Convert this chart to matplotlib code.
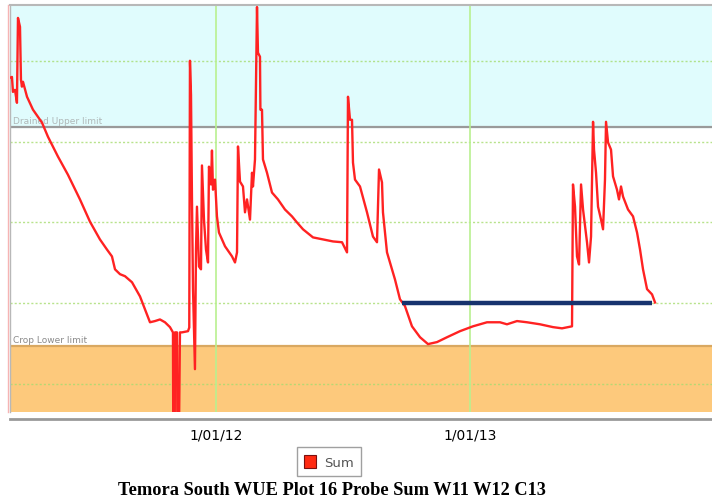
import numpy as np
import pandas as pd
import matplotlib
matplotlib.use("Agg")
import matplotlib.pyplot as plt
import matplotlib.dates as mdates
from matplotlib.patches import Patch
from matplotlib.lines import Line2D

# probe sum readings: days offset from 1 Jan 2012, and summed soil water
day_offset = [
    -296.8, -294.0, -292.5, -289.6, -286.8, -285.3, -282.4, -281.0, -279.6, -278.1,
    -272.3, -263.7, -250.7, -242.1, -227.7, -213.3, -196.0, -181.6, -167.2, -157.1,
    -149.9, -145.5, -138.3, -131.1, -121.0, -109.5, -102.3, -95.1, -87.9, -80.7,
    -73.5, -66.3, -62.0, -61.5, -59.5, -59.1, -56.2, -55.5, -53.5, -51.9,
    -49.0, -40.3, -38.5, -37.5, -36.0, -34.6, -33.1, -30.3, -28.8, -27.4,
    -24.5, -21.6, -20.2, -17.3, -14.4, -11.5, -10.1, -7.2, -5.8, -4.3,
    -1.4, 1.4, 4.3, 13.0, 23.1, 27.4, 30.3, 31.7, 34.6, 38.9,
    41.8, 44.7, 49.0, 51.9, 53.3, 56.2, 59.1, 60.5, 63.4, 64.0,
    66.3, 67.7, 73.5, 80.7, 89.3, 99.4, 109.5, 116.7, 125.4, 139.8,
    154.2, 168.6, 181.6, 188.8, 190.2, 193.1, 196.0, 197.4, 200.3, 207.5,
    217.6, 226.2, 232.0, 234.9, 239.2, 240.6, 246.4, 257.9, 265.1, 272.3,
    282.4, 294.0, 305.5, 318.5, 332.9, 351.6, 370.3, 390.5, 409.2, 419.3,
    433.7, 448.2, 466.9, 485.6, 498.6, 513.0, 514.4, 517.3, 520.2, 523.1,
    526.0, 528.9, 534.6, 537.5, 540.4, 543.3, 544.7, 547.6, 550.5, 554.8,
    557.7, 560.5, 562.0, 564.9, 569.2, 572.1, 577.8, 580.7, 583.6, 586.5,
    593.7, 600.9, 606.7, 611.0, 615.3, 621.1, 628.3, 632.6,
]
sum_values = [
    375.8, 376.0, 372.3, 372.8, 369.6, 390.6, 388.4, 375.3, 373.6, 374.8,
    371.1, 367.9, 364.7, 361.2, 356.3, 351.8, 345.7, 340.2, 335.8, 333.3,
    331.6, 328.4, 327.2, 326.7, 325.2, 321.7, 318.5, 315.3, 315.6, 316.0,
    315.3, 314.1, 312.8, 285.0, 285.0, 312.8, 312.8, 285.0, 285.0, 312.8,
    312.8, 313.1, 314.0, 380.0, 371.6, 345.7, 323.5, 303.7, 333.3, 343.9,
    329.1, 328.4, 354.1, 340.7, 333.3, 330.1, 353.8, 349.4, 357.8, 348.1,
    350.6, 341.5, 337.5, 334.1, 331.6, 330.1, 332.6, 358.8, 350.1, 348.9,
    342.5, 345.7, 340.7, 352.3, 348.9, 355.6, 393.3, 382.0, 381.0, 367.9,
    367.9, 355.6, 352.3, 347.4, 345.7, 343.2, 341.5, 340.0, 338.3, 336.3,
    335.8, 335.3, 335.1, 332.6, 371.1, 365.4, 365.4, 354.8, 350.6, 348.9,
    342.5, 336.5, 335.1, 353.1, 349.9, 342.5, 332.6, 325.9, 321.0, 319.3,
    314.3, 311.6, 309.9, 310.4, 311.6, 313.1, 314.3, 315.3, 315.3, 314.8,
    315.6, 315.3, 314.8, 314.1, 313.8, 314.3, 349.4, 343.9, 331.6, 329.6,
    349.4, 343.2, 335.1, 330.1, 336.5, 364.9, 358.0, 352.3, 343.9, 340.7,
    338.3, 350.6, 364.9, 359.8, 358.0, 351.4, 348.1, 345.7, 348.9, 346.4,
    343.2, 341.5, 337.5, 333.3, 328.4, 323.5, 322.2, 320.2,
]

full_point = 363.5      # drained upper limit
refill_point = 309.4    # crop lower limit
target_level = 320.0
target_span = [268.0, 628.3]
grid_levels = [300, 320, 340, 360, 380]
tick_dates = ["2012-01-01", "2013-01-01"]
tick_labels = ["1/01/12", "1/01/13"]

base = pd.Timestamp("2012-01-01")
dates = base + pd.to_timedelta(day_offset, unit="D")
x_left = base + pd.Timedelta(days=-296.8)
x_right = base + pd.Timedelta(days=714.7)
y_bottom, y_top = 293.1, 393.8

fig = plt.figure(figsize=(7.12, 5.02), dpi=100)
ax = fig.add_axes([10 / 712, 1 - 413 / 502, 1 - 10 / 712, 407 / 502])

ax.axhspan(full_point, y_top, color="#e0fcfd", zorder=0)
ax.axhspan(y_bottom, refill_point, color="#fdc97c", zorder=0)
ax.axhline(full_point, color="#9a9a9a", lw=1.6, zorder=1)
ax.axhline(refill_point, color="#d9a861", lw=1.6, zorder=1)

for lvl in grid_levels:
    ax.axhline(lvl, color="#a6dc70", lw=1.0, ls=(0, (1.5, 1.5)), alpha=0.8, zorder=1)
for d in tick_dates:
    ax.axvline(pd.Timestamp(d), color="#b9f090", lw=1.2, zorder=1)

ax.text(x_left + pd.Timedelta(days=5), full_point + 0.6, "Drained Upper limit",
        fontsize=6.5, color="#b0b8b8", va="bottom", ha="left", zorder=2)
ax.text(x_left + pd.Timedelta(days=5), refill_point + 0.6, "Crop Lower limit",
        fontsize=6.5, color="#8a8a8a", va="bottom", ha="left", zorder=2)

ax.plot(dates, sum_values, color="#ff2222", lw=1.7, zorder=3)
ax.plot([base + pd.Timedelta(days=target_span[0]), base + pd.Timedelta(days=target_span[1])],
        [target_level, target_level], color="#17336e", lw=3.2, zorder=4, solid_capstyle="butt")

ax.set_xlim(x_left, x_right)
ax.set_ylim(y_bottom, y_top)
ax.set_yticks([])
ax.set_xticks([pd.Timestamp(d) for d in tick_dates])
ax.set_xticklabels(tick_labels, fontsize=6.5, color="#444444")
ax.tick_params(axis="x", length=0, pad=6)

ax.spines["right"].set_visible(False)
ax.spines["top"].set_color("#b8b8b8")
ax.spines["top"].set_linewidth(1.5)
ax.spines["left"].set_color("#b8b8b8")
ax.spines["left"].set_linewidth(1.0)
ax.spines["bottom"].set_color("#999999")
ax.spines["bottom"].set_linewidth(2.0)
ax.spines["bottom"].set_position(("outward", 5))

fig.add_artist(Line2D([8 / 712, 8 / 712], [1 - 413 / 502, 1 - 6 / 502],
                      color="#f6b4b4", lw=1.0))

handle = Patch(facecolor="#ff2a12", edgecolor="#7a1010", linewidth=0.8)
leg = fig.legend([handle], ["Sum"], loc="center", bbox_to_anchor=(0.462, 0.078),
                 fontsize=9.5, frameon=True, fancybox=False, handlelength=0.9,
                 handleheight=1.2, handletextpad=0.6, borderpad=0.55)
leg.get_frame().set_edgecolor("#888888")
leg.get_frame().set_linewidth(1.0)
for t in leg.get_texts():
    t.set_color("#555555")

fig.text(0.466, 0.022, "Temora South WUE Plot 16 Probe Sum W11 W12 C13",
         ha="center", va="center", fontsize=13.2, fontweight="bold",
         family="Liberation Serif")

fig.savefig("out.png", dpi=100)
